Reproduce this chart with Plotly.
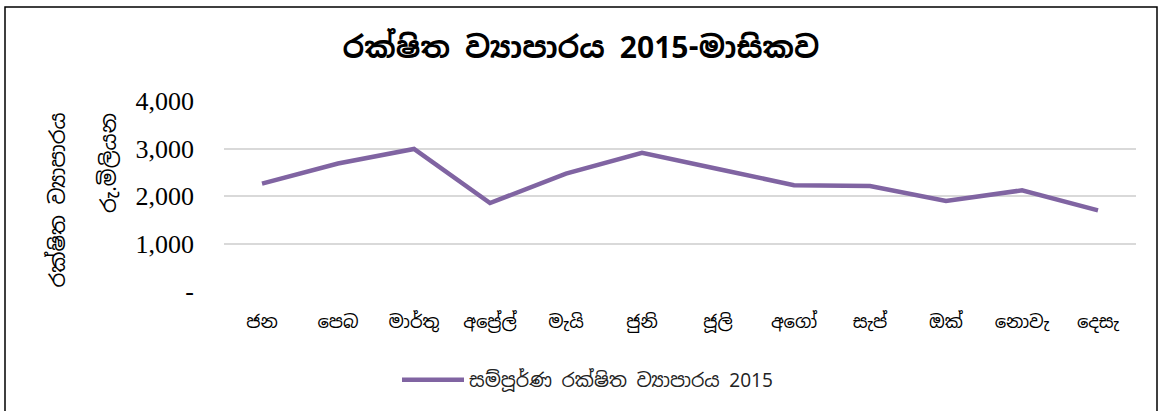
import plotly.graph_objects as go

months = ["ජන", "පෙබ", "මාර්තු", "අප්‍රේල්", "මැයි", "ජුනි", "ජූලි", "අගෝ", "සැප්", "ඔක්", "නොවැ", "දෙසැ"]
values = [2262, 2684, 2990, 1852, 2473, 2907, 2570, 2226, 2212, 1893, 2120, 1698]
series_name = "සම්පූර්ණ රක්ෂිත ව්‍යාපාරය 2015"
title_text = "රක්ෂිත ව්‍යාපාරය 2015-මාසිකව"
ytitle1 = "රක්ෂිත ව්‍යාපාරය"
ytitle2 = "රු.මිලියන"
ytick_vals = [0, 1000, 2000, 3000, 4000]
ytick_text = ["-", "1,000", "2,000", "3,000", "4,000"]

W, H = 1160, 411
L, R, T, B = 224, 24, 101, 120
pw = W - L - R
ph = H - T - B

def px_x(x):
    return (x - L) / pw

def px_y(y):
    return (H - B - y) / ph

sfont = "Iskoola Pota, Noto Sans Sinhala, Noto Sans, sans-serif"

fig = go.Figure()
fig.add_trace(go.Scatter(
    x=months, y=values, mode="lines", name=series_name,
    line=dict(color="#8064A2", width=4.5),
))

fig.update_layout(
    width=W, height=H, autosize=False,
    margin=dict(l=L, r=R, t=T, b=B),
    paper_bgcolor="white", plot_bgcolor="white",
    title=dict(text="<b>" + title_text + "</b>", x=581 / W, xref="container", xanchor="center",
               y=1 - 47 / H, yref="container", yanchor="middle",
               font=dict(family=sfont, size=30, color="black")),
    showlegend=True,
    legend=dict(orientation="h", x=px_x(397), xanchor="left", y=px_y(380), yanchor="middle",
                font=dict(family=sfont, size=19, color="#222222"), itemwidth=62),
    xaxis=dict(range=[-0.5, 11.5], showgrid=False, showline=False, ticks="",
               tickfont=dict(family=sfont, size=18, color="black"),
               ticklabelstandoff=18),
    yaxis=dict(range=[0, 4000], tickvals=ytick_vals, ticktext=ytick_text,
               showgrid=True, gridcolor="#D9D9D9", gridwidth=1.5, zeroline=False, showline=False,
               tickfont=dict(family="Liberation Serif, Times New Roman, serif", size=26, color="black"),
               ticklabelstandoff=29),
)

fig.add_annotation(text=ytitle1, textangle=-90, xref="paper", yref="paper",
                   x=px_x(57), y=px_y(111), xanchor="center", yanchor="top", showarrow=False,
                   font=dict(family=sfont, size=21, color="black"))
fig.add_annotation(text=ytitle2, textangle=-90, xref="paper", yref="paper",
                   x=px_x(108), y=px_y(111), xanchor="center", yanchor="top", showarrow=False,
                   font=dict(family=sfont, size=21, color="black"))

fig.add_shape(type="rect", xref="paper", yref="paper",
              x0=px_x(5), x1=px_x(1157), y0=px_y(420), y1=px_y(7),
              line=dict(color="black", width=1.5), fillcolor="rgba(0,0,0,0)", layer="below")

fig.write_html("out.html",
               config={"responsive": False, "displayModeBar": False},
               post_script="document.body.style.margin='0';document.body.style.overflow='hidden';")
